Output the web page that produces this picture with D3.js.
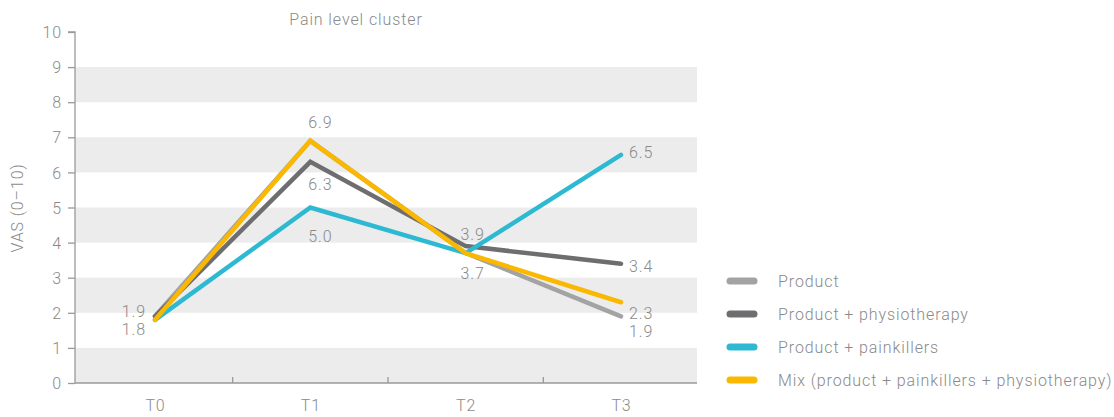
<!DOCTYPE html>
<html><head><meta charset="utf-8">
<script src="https://cdn.jsdelivr.net/npm/d3@7"></script>
<style>
body{margin:0;background:#fff;}
text{font-family:"Roboto","DejaVu Sans",sans-serif;font-weight:300;fill:#8a8a8a;letter-spacing:0.9px;}
</style></head>
<body><svg id="c" width="1114" height="417"></svg>
<script>
const categories = ["T0","T1","T2","T3"];
const seriesNames = ["Product","Product + physiotherapy","Product + painkillers","Mix (product + painkillers + physiotherapy)"];
const product = [1.9, 6.9, 3.7, 1.9];
const physio = [1.9, 6.3, 3.9, 3.4];
const painkillers = [1.8, 5.0, 3.7, 6.5];
const mix = [1.8, 6.9, 3.7, 2.3];
const yTicks = [0,1,2,3,4,5,6,7,8,9,10];
const title = "Pain level cluster";
const yTitle = "VAS (0–10)";
// which values are labelled: [seriesIndex, categoryIndex]
const labelled = [[0,0],[2,0],[3,1],[1,1],[2,1],[1,2],[2,2],[2,3],[1,3],[3,3],[0,3]];

const colors = ["#a3a3a3","#6e6e70","#2db9d1","#fbb800"];
const allSeries = [product, physio, painkillers, mix];
// label placement (layout only)
const labelPlace = {
  "0,0":{dx:-9,dy:-5,anchor:"end"}, "2,0":{dx:-9,dy:10,anchor:"end"},
  "3,1":{dx:10,dy:-18,anchor:"middle"}, "1,1":{dx:10,dy:23,anchor:"middle"}, "2,1":{dx:10,dy:28.5,anchor:"middle"},
  "1,2":{dx:7,dy:-12,anchor:"middle"}, "2,2":{dx:7,dy:20,anchor:"middle"},
  "2,3":{dx:8,dy:-2.5,anchor:"start"}, "1,3":{dx:8,dy:3,anchor:"start"}, "3,3":{dx:8,dy:11,anchor:"start"}, "0,3":{dx:8,dy:15.5,anchor:"start"}
};

const svg = d3.select("#c");
const pLeft = 75, pRight = 697, pTop = 32, pBottom = 383;
const y = d3.scaleLinear().domain([0,10]).range([pBottom, pTop]);
const x = d3.scalePoint().domain(categories).range([155, 621]);

// bands
const bandIdx = yTicks.filter(t => t < 10 && t % 2 === 0);
svg.append("g").selectAll("rect").data(bandIdx).join("rect")
  .attr("x", pLeft).attr("width", pRight-pLeft)
  .attr("y", d => y(d+1)).attr("height", d => y(d)-y(d+1))
  .attr("fill", "#ebeceb");

// y axis
const yAxis = d3.axisLeft(y).tickValues(yTicks).tickSize(7).tickPadding(6).tickFormat(d3.format("d"));
const ga = svg.append("g").attr("transform", `translate(${pLeft},0)`).call(yAxis);
ga.select(".domain").attr("stroke","#9a9a9a").attr("stroke-width",1.3).attr("d", `M-7,${pTop}H0V${pBottom}`);
ga.selectAll(".tick line").attr("stroke","#9a9a9a").attr("stroke-width",1.3);
ga.selectAll(".tick text").attr("font-size",16).style("fill","#8a8a8a").attr("dy","0.35em");

// x axis
const xAxis = d3.axisBottom(x).tickSize(0).tickPadding(17);
const gx = svg.append("g").attr("transform", `translate(0,${pBottom})`).call(xAxis);
gx.select(".domain").attr("stroke","#9a9a9a").attr("stroke-width",1.3).attr("d", `M${pLeft},0H${pRight}`);
gx.selectAll(".tick text").attr("font-size",16).style("fill","#8a8a8a");
const mids = categories.slice(1).map((c,i) => (x(categories[i]) + x(c))/2);
svg.append("g").selectAll("line").data(mids).join("line")
  .attr("x1", d=>d).attr("x2", d=>d).attr("y1", pBottom-6).attr("y2", pBottom)
  .attr("stroke","#9a9a9a").attr("stroke-width",1.3);

// lines
const line = d3.line().x((d,i)=>x(categories[i])).y(d=>y(d));
svg.append("g").selectAll("path").data(allSeries).join("path")
  .attr("d", line).attr("fill","none")
  .attr("stroke", (d,i)=>colors[i]).attr("stroke-width",4.5)
  .attr("stroke-linejoin","miter").attr("stroke-linecap","round");

// value labels
svg.append("g").selectAll("text").data(labelled).join("text")
  .attr("x", d => x(categories[d[1]]) + labelPlace[d.join(",")].dx)
  .attr("y", d => y(allSeries[d[0]][d[1]]) + labelPlace[d.join(",")].dy)
  .attr("dy","0.35em")
  .attr("text-anchor", d => labelPlace[d.join(",")].anchor)
  .attr("font-size",16)
  .text(d => allSeries[d[0]][d[1]].toFixed(1));

// title
svg.append("text").attr("x", 356).attr("y", 19).attr("dy","0.35em").attr("text-anchor","middle").attr("font-size",16).text(title);
svg.append("text").attr("transform","translate(17,208) rotate(-90)").attr("dy","0.35em").attr("text-anchor","middle").attr("font-size",16).text(yTitle);

// legend
const lg = svg.append("g").selectAll("g").data(seriesNames).join("g")
  .attr("transform",(d,i)=>`translate(728,${281 + i*33})`);
lg.append("line").attr("x1",2).attr("x2",26).attr("y1",0).attr("y2",0)
  .attr("stroke",(d,i)=>colors[i]).attr("stroke-width",7).attr("stroke-linecap","round");
lg.append("text").attr("x",50).attr("y",0).attr("dy","0.35em").attr("font-size",16).text(d=>d);
</script></body></html>
